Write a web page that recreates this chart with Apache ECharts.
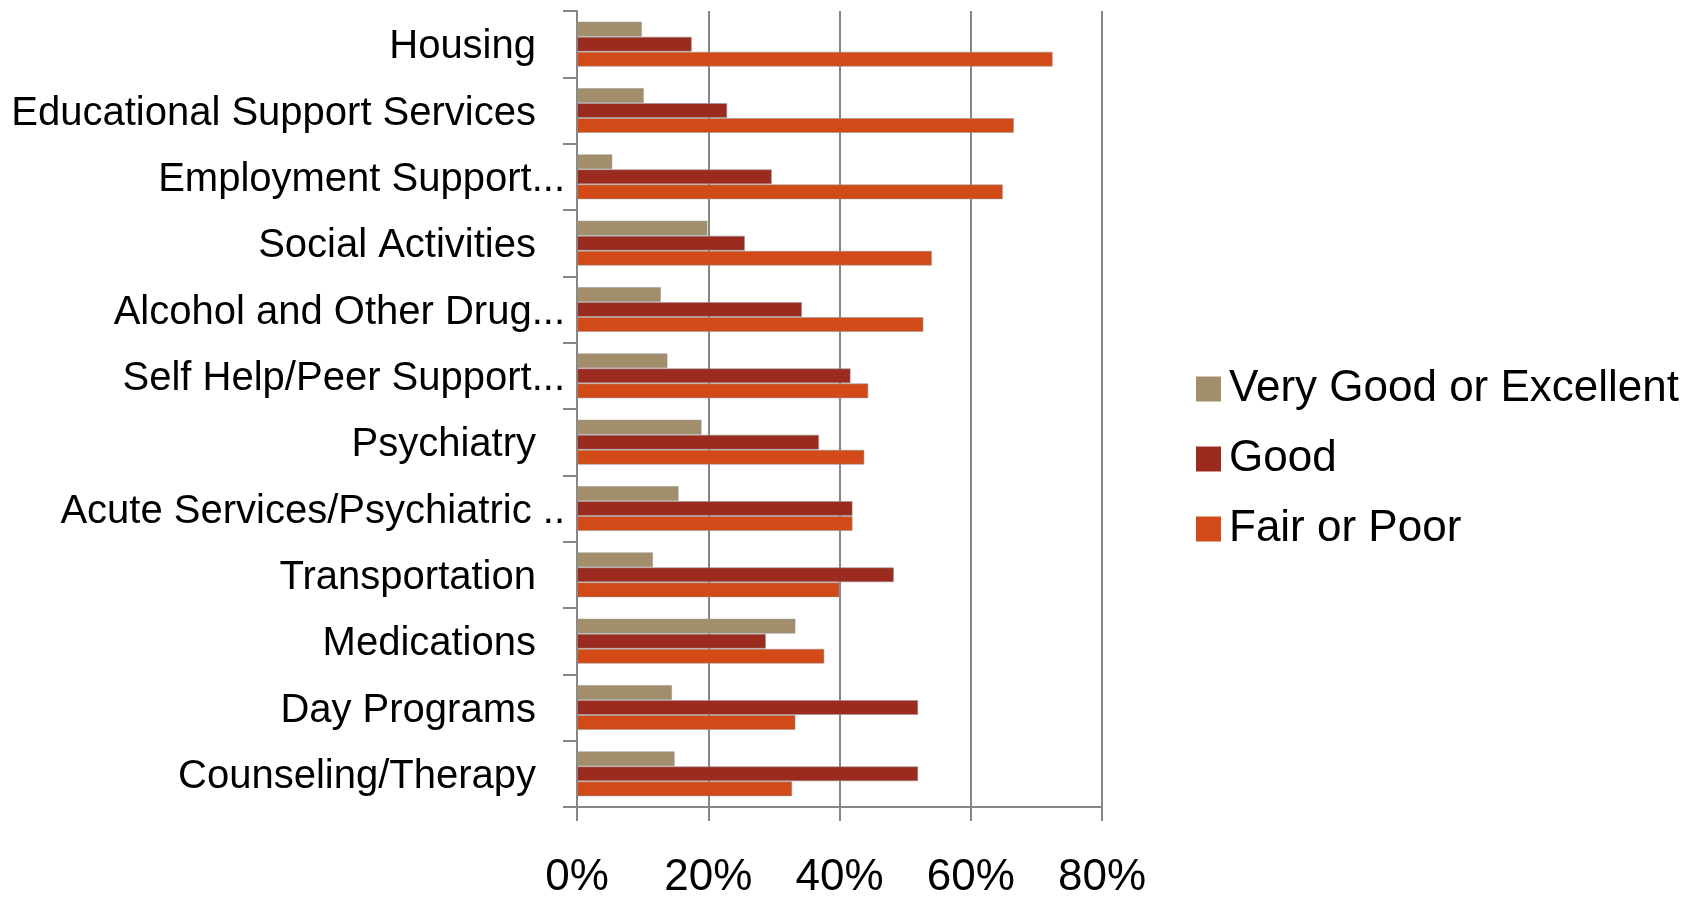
<!DOCTYPE html>
<html>
<head>
<meta charset="utf-8">
<script src="https://cdn.jsdelivr.net/npm/echarts@6/dist/echarts.min.js"></script>
<style>
html,body{margin:0;padding:0;background:#fff;}
#chart{width:1704px;height:897px;}
</style>
</head>
<body>
<div id="chart"></div>
<script>
const categories = [
  "Housing",
  "Educational Support Services",
  "Employment Support...",
  "Social Activities",
  "Alcohol and Other Drug...",
  "Self Help/Peer Support...",
  "Psychiatry",
  "Acute Services/Psychiatric ..",
  "Transportation",
  "Medications",
  "Day Programs",
  "Counseling/Therapy"
];
const veryGoodOrExcellent = [9.9, 10.2, 5.4, 19.9, 12.8, 13.8, 19.0, 15.5, 11.6, 33.3, 14.5, 14.9];
const good = [17.5, 22.9, 29.7, 25.6, 34.3, 41.7, 36.9, 42.0, 48.3, 28.8, 52.0, 52.0];
const fairOrPoor = [72.5, 66.6, 64.9, 54.1, 52.8, 44.4, 43.8, 42.0, 40.0, 37.7, 33.3, 32.8];
const seriesNames = ["Very Good or Excellent", "Good", "Fair or Poor"];
const xTicks = [0, 20, 40, 60, 80];

const colors = ["#A38E6B", "#9B2B1F", "#D24A18"];
const fontFam = "'Liberation Sans', Arial, sans-serif";

const chart = echarts.init(document.getElementById('chart'), null, {renderer: 'canvas'});
const mk = (name, data, i) => ({
  name: name,
  type: 'bar',
  data: data,
  barGap: '0%',
  barCategoryGap: '32%',
  itemStyle: {color: colors[i], borderColor: 'rgba(150,150,150,0.55)', borderWidth: 1},
  emphasis: {disabled: true}
});
chart.setOption({
  animation: false,
  backgroundColor: '#fff',
  color: colors,
  grid: {left: 577, right: 602, top: 11, bottom: 90, containLabel: false, outerBoundsMode: 'none'},
  legend: {
    orient: 'vertical',
    left: 1191,
    top: 359,
    itemWidth: 25,
    itemHeight: 25,
    itemGap: 20,
    icon: 'rect',
    itemStyle: {borderWidth: 0},
    textStyle: {fontFamily: fontFam, fontSize: 44, color: '#000', lineHeight: 50, padding: [0, 0, 0, 3]},
    data: seriesNames
  },
  xAxis: {
    type: 'value',
    min: xTicks[0],
    max: xTicks[xTicks.length - 1],
    interval: 20,
    axisLine: {show: true, lineStyle: {color: '#868686', width: 2}},
    axisTick: {show: true, length: 14, lineStyle: {color: '#868686', width: 2}},
    splitLine: {show: true, lineStyle: {color: '#868686', width: 2}},
    axisLabel: {
      formatter: v => v + '%',
      fontFamily: fontFam,
      fontSize: 44,
      color: '#000',
      margin: 49
    }
  },
  yAxis: {
    type: 'category',
    inverse: true,
    data: categories,
    axisLine: {show: true, lineStyle: {color: '#868686', width: 2}},
    axisTick: {show: true, length: 14, lineStyle: {color: '#868686', width: 2}},
    axisLabel: {
      margin: 12,
      fontFamily: fontFam,
      fontSize: 40,
      color: '#000',
      interval: 0,
      formatter: v => v.endsWith('.') ? '{t|' + v + '}' : '{n|' + v + '}',
      rich: {
        t: {fontFamily: fontFam, fontSize: 40, color: '#000', padding: [6, 0, 0, 0]},
        n: {fontFamily: fontFam, fontSize: 40, color: '#000', padding: [6, 29, 0, 0]}
      }
    }
  },
  series: [
    mk(seriesNames[0], veryGoodOrExcellent, 0),
    mk(seriesNames[1], good, 1),
    mk(seriesNames[2], fairOrPoor, 2)
  ]
});
</script>
</body>
</html>
